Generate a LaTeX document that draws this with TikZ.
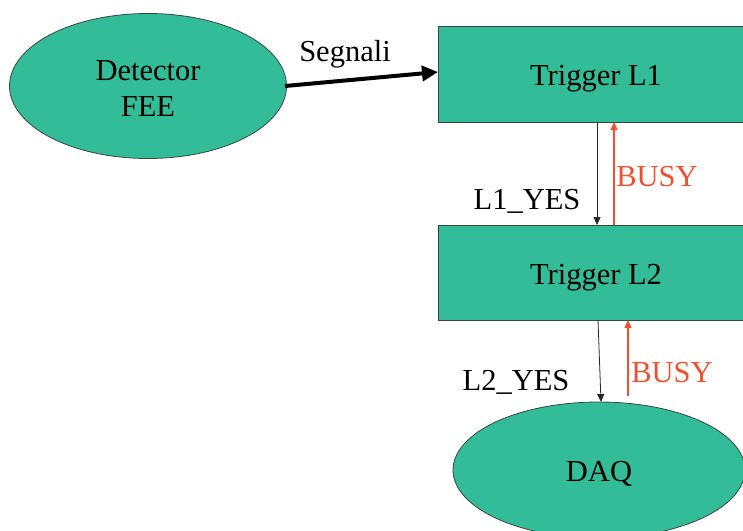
\documentclass[tikz,border=0pt]{standalone}
\usepackage{fontspec}
\setmainfont{Liberation Serif}
\usetikzlibrary{arrows.meta,shapes.geometric}
\definecolor{boxfill}{RGB}{50,189,152}
\definecolor{edgegrey}{RGB}{60,70,65}
\definecolor{busyred}{RGB}{240,80,50}
\begin{document}
\begin{tikzpicture}[x=1pt,y=-1pt,
  every node/.style={font=\fontsize{30.5}{36}\selectfont},
  block/.style={draw=edgegrey,line width=0.8pt,fill=boxfill},
  lbl/.style={text=black,inner sep=0pt},
  busylbl/.style={text=busyred,inner sep=0pt},
  yesarrow/.style={draw=black!85,line width=0.8pt,-{Triangle[length=8pt,width=7pt]}},
  busyarrow/.style={draw=busyred,line width=1.2pt,-{Triangle[length=8pt,width=7pt]}}]
\useasboundingbox (0,0) rectangle (743,530);
\clip (0,0) rectangle (743,530);
% blocks
\draw[block] (148,86) ellipse [x radius=138.5pt, y radius=72.5pt];
\node[align=center,inner sep=0pt] (det) at (148,89) {Detector\\FEE};
\coordinate (dete) at (285,86);
\draw[block] (438,26) rectangle (760,122);
\node[inner sep=0pt] (l1) at (596,79) {Trigger L1};
\coordinate (l1w) at (438,72);
\coordinate (l1sa) at (597,122);
\coordinate (l1sb) at (614,122);
\draw[block] (438,225) rectangle (760,320);
\node[inner sep=0pt] (l2) at (596,278) {Trigger L2};
\coordinate (l2na) at (597,225);
\coordinate (l2nb) at (614,225);
\coordinate (l2sa) at (598,320);
\coordinate (l2sb) at (628,320);
\draw[block] (599,470) ellipse [x radius=146pt, y radius=68pt];
\node[inner sep=0pt] (daq) at (599,474) {DAQ};
\coordinate (daqn) at (601,402);
\coordinate (daqb) at (628,396);
% connectors
\draw[line width=4pt,-{Triangle[length=16pt,width=15pt]}] (dete) -- (l1w);
\node[lbl] (segn) at (345,54) {Segnali};
\draw[yesarrow] (l1sa) -- (l2na);
\draw[busyarrow] (l2nb) -- (l1sb);
\node[lbl] (y1) at (527,201) {L1\_YES};
\node[busylbl] (b1) at (657,177) {BUSY};
\draw[yesarrow] (l2sa) -- (daqn);
\draw[busyarrow] (daqb) -- (l2sb);
\node[lbl] (y2) at (516,382) {L2\_YES};
\node[busylbl] (b2) at (672,373) {BUSY};
\end{tikzpicture}
\end{document}
